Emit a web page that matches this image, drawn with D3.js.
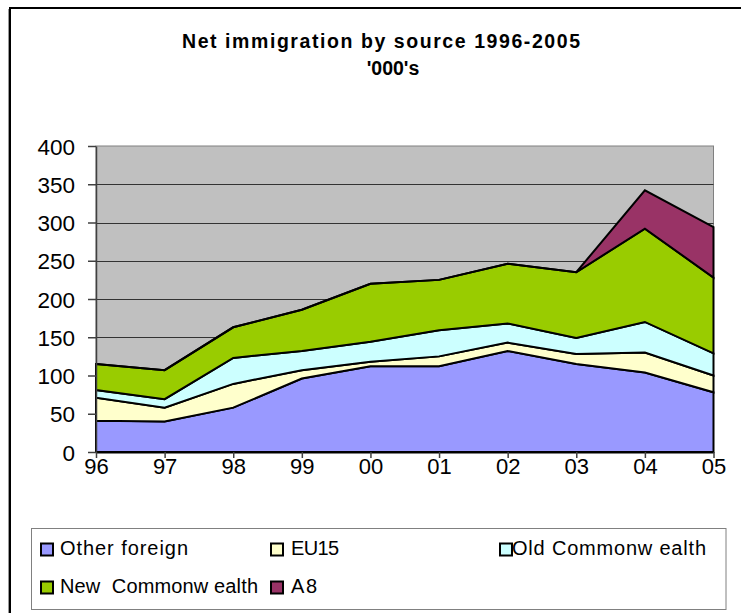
<!DOCTYPE html>
<html>
<head>
<meta charset="utf-8">
<script src="https://cdn.jsdelivr.net/npm/d3@7"></script>
<style>
  html, body { margin: 0; padding: 0; background: #fff; }
  svg { display: block; font-family: "Liberation Sans", Arial, sans-serif; }
</style>
</head>
<body>
<svg id="chart" width="741" height="613"></svg>
<script>
const categories = ["96", "97", "98", "99", "00", "01", "02", "03", "04", "05"];
const otherForeign     = [41, 40, 58, 96, 112, 112, 132, 115, 104, 78];
const eu15             = [30, 18, 31, 11,   6,  13,  11,  13,  26, 22];
const oldCommonwealth  = [10, 11, 34, 25,  26,  34,  25,  21,  40, 29];
const newCommonwealth  = [34, 38, 40, 54,  76,  66,  78,  86, 122, 99];
const a8               = [ 0,  0,  0,  0,   0,   0,   0,   0,  50, 66];
const seriesNames  = ["Other foreign", "EU15", "Old Commonwealth", "New Commonwealth", "A8"];
const legendLabels = ["Other foreign", "EU15", "Old Commonw ealth", "New  Commonw ealth", "A8"];
const seriesColors = ["#9999FF", "#FFFFCC", "#CCFFFF", "#99CC00", "#993366"];
const yTicks = [0, 50, 100, 150, 200, 250, 300, 350, 400];

const seriesValues = [otherForeign, eu15, oldCommonwealth, newCommonwealth, a8];
const table = categories.map((c, i) => {
  const row = { cat: c };
  seriesNames.forEach((s, k) => row[s] = seriesValues[k][i]);
  return row;
});

const svg = d3.select("#chart");

// outer chart border (cropped at right/bottom)
svg.append("line").attr("x1", 8.5).attr("x2", 8.5).attr("y1", 9).attr("y2", 613)
  .attr("stroke", "#999").attr("stroke-width", 1);
svg.append("rect").attr("x", 10).attr("y", 8).attr("width", 800).attr("height", 700)
  .attr("fill", "none").attr("stroke", "#000").attr("stroke-width", 2);

const plot = { left: 96, right: 713.5, top: 146, bottom: 452 };

const x = d3.scalePoint().domain(categories).range([plot.left, plot.right]);
const y = d3.scaleLinear().domain([0, 400]).range([plot.bottom, plot.top]);

// plot background
svg.append("rect").attr("x", plot.left).attr("y", plot.top)
  .attr("width", plot.right - plot.left).attr("height", plot.bottom - plot.top)
  .attr("fill", "#C0C0C0").attr("stroke", "#808080").attr("stroke-width", 1);

// gridlines
svg.append("g").selectAll("line").data(yTicks.filter(t => t > 0 && t < 400)).join("line")
  .attr("x1", plot.left).attr("x2", plot.right)
  .attr("y1", d => Math.round(y(d)) + 0.5).attr("y2", d => Math.round(y(d)) + 0.5)
  .attr("stroke", "#333").attr("stroke-width", 1);

// stacked areas
const stack = d3.stack().keys(seriesNames);
const layers = stack(table);
const area = d3.area()
  .x(d => x(d.data.cat))
  .y0(d => y(d[0]))
  .y1(d => y(d[1]));

svg.append("g").selectAll("path").data(layers).join("path")
  .attr("d", area)
  .attr("fill", (d, i) => seriesColors[i])
  .attr("stroke", "#000")
  .attr("stroke-width", 2)
  .attr("stroke-linejoin", "miter");

// y axis
const yAxis = svg.append("g").attr("transform", `translate(${plot.left},0)`)
  .call(d3.axisLeft(y).tickValues(yTicks).tickSize(8).tickSizeOuter(0).tickPadding(13));
yAxis.select(".domain").attr("stroke", "#404040").attr("stroke-width", 1.5);
yAxis.selectAll(".tick line").attr("stroke", "#404040").attr("stroke-width", 1.5);
yAxis.selectAll(".tick text")
  .attr("font-family", "'Liberation Sans', Arial, sans-serif")
  .attr("font-size", 22.5).attr("fill", "#000").attr("dy", "0.36em");

// x axis
const xAxis = svg.append("g").attr("transform", `translate(0,${plot.bottom})`)
  .call(d3.axisBottom(x).tickSize(6).tickSizeOuter(0));
xAxis.select(".domain").attr("stroke", "#000").attr("stroke-width", 2);
xAxis.selectAll(".tick line").attr("stroke", "#404040").attr("stroke-width", 1.5);
xAxis.selectAll(".tick text")
  .attr("font-family", "'Liberation Sans', Arial, sans-serif")
  .attr("font-size", 22).attr("fill", "#000")
  .attr("y", 22).attr("dy", 0);

// title
svg.append("text").attr("x", 381).attr("y", 48).attr("text-anchor", "middle")
  .attr("font-size", 19.5).attr("font-weight", "bold")
  .attr("textLength", 398).attr("lengthAdjust", "spacing")
  .text("Net immigration by source 1996-2005");
svg.append("text").attr("x", 393).attr("y", 75).attr("text-anchor", "middle")
  .attr("font-size", 19.5).attr("font-weight", "bold")
  .text("'000's");

// legend
svg.append("rect").attr("x", 31.5).attr("y", 528.5).attr("width", 694.5).attr("height", 81)
  .attr("fill", "#fff").attr("stroke", "#808080").attr("stroke-width", 1);

const legendPos = [
  { sx: 40, tx: 60, row: 0, w: 128 },
  { sx: 270, tx: 291, row: 0, w: 48 },
  { sx: 499, tx: 512, row: 0, w: 194 },
  { sx: 40, tx: 60, row: 1, w: 198 },
  { sx: 270, tx: 291, row: 1, w: 26 }
];
const rowBase = [554.5, 592.5];
const lg = svg.append("g").selectAll("g").data(seriesNames).join("g");
lg.append("rect")
  .attr("x", (d, i) => legendPos[i].sx + 1)
  .attr("y", (d, i) => rowBase[legendPos[i].row] - 11)
  .attr("width", 12).attr("height", 12)
  .attr("fill", (d, i) => seriesColors[i])
  .attr("stroke", "#000").attr("stroke-width", 2);
lg.append("text")
  .attr("x", (d, i) => legendPos[i].tx)
  .attr("y", (d, i) => rowBase[legendPos[i].row])
  .attr("font-size", 20)
  .attr("textLength", (d, i) => legendPos[i].w)
  .attr("lengthAdjust", "spacing")
  .style("white-space", "pre")
  .text((d, i) => legendLabels[i]);
</script>
</body>
</html>
